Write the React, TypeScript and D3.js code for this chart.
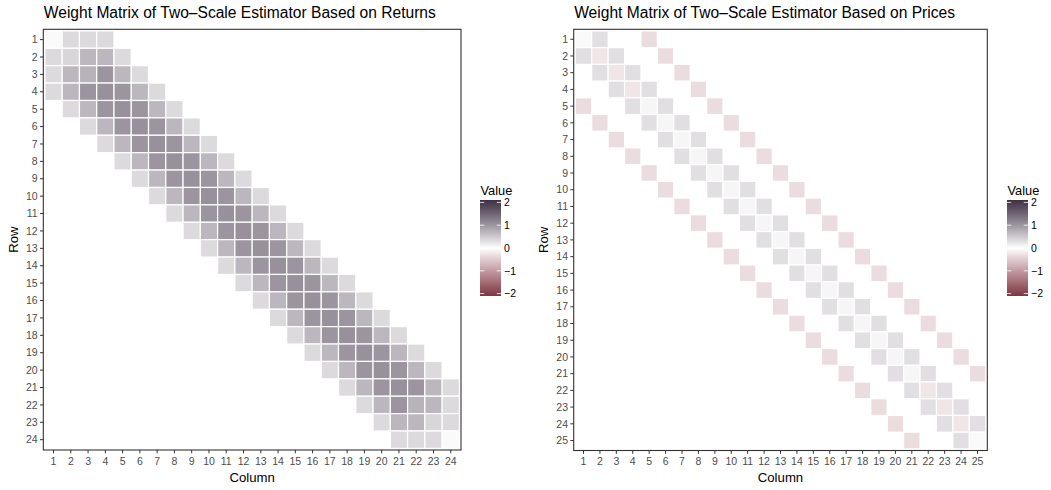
import React from "react";
import * as d3 from "d3";

// Weight matrix of the two-scale estimator written in returns (24 x 24).
// Each row lists its first non-empty column and the weights from there on.
const returnsRowStart = [1, 1, 1, 1, 2, 3, 4, 5, 6, 7, 8, 9, 10, 11, 12, 13, 14, 15, 16, 17, 18, 19, 20, 21];
const returnsRowValues = [
  [0.04, 0.32, 0.32, 0.32],
  [0.32, 0.36, 0.64, 0.64, 0.32],
  [0.32, 0.64, 0.68, 0.96, 0.64, 0.32],
  [0.32, 0.64, 0.96, 1.0, 0.96, 0.64, 0.32],
  [0.32, 0.64, 0.96, 1.0, 0.96, 0.64, 0.32],
  [0.32, 0.64, 0.96, 1.0, 0.96, 0.64, 0.32],
  [0.32, 0.64, 0.96, 1.0, 0.96, 0.64, 0.32],
  [0.32, 0.64, 0.96, 1.0, 0.96, 0.64, 0.32],
  [0.32, 0.64, 0.96, 1.0, 0.96, 0.64, 0.32],
  [0.32, 0.64, 0.96, 1.0, 0.96, 0.64, 0.32],
  [0.32, 0.64, 0.96, 1.0, 0.96, 0.64, 0.32],
  [0.32, 0.64, 0.96, 1.0, 0.96, 0.64, 0.32],
  [0.32, 0.64, 0.96, 1.0, 0.96, 0.64, 0.32],
  [0.32, 0.64, 0.96, 1.0, 0.96, 0.64, 0.32],
  [0.32, 0.64, 0.96, 1.0, 0.96, 0.64, 0.32],
  [0.32, 0.64, 0.96, 1.0, 0.96, 0.64, 0.32],
  [0.32, 0.64, 0.96, 1.0, 0.96, 0.64, 0.32],
  [0.32, 0.64, 0.96, 1.0, 0.96, 0.64, 0.32],
  [0.32, 0.64, 0.96, 1.0, 0.96, 0.64, 0.32],
  [0.32, 0.64, 0.96, 1.0, 0.96, 0.64, 0.32],
  [0.32, 0.64, 0.96, 1.0, 0.96, 0.64, 0.32],
  [0.32, 0.64, 0.96, 0.68, 0.64, 0.32],
  [0.32, 0.64, 0.64, 0.36, 0.32],
  [0.32, 0.32, 0.32, 0.04],
];

// Same estimator written as a quadratic form in prices (25 x 25).
const pricesRowStart = [1, 1, 2, 3, 1, 2, 3, 4, 5, 6, 7, 8, 9, 10, 11, 12, 13, 14, 15, 16, 17, 18, 19, 20, 21];
const pricesRowValues = [
  [0.04, 0.28, 0, 0, -0.32],
  [0.28, -0.24, 0.28, 0, 0, -0.32],
  [0.28, -0.24, 0.28, 0, 0, -0.32],
  [0.28, -0.24, 0.28, 0, 0, -0.32],
  [-0.32, 0, 0, 0.28, 0.08, 0.28, 0, 0, -0.32],
  [-0.32, 0, 0, 0.28, 0.08, 0.28, 0, 0, -0.32],
  [-0.32, 0, 0, 0.28, 0.08, 0.28, 0, 0, -0.32],
  [-0.32, 0, 0, 0.28, 0.08, 0.28, 0, 0, -0.32],
  [-0.32, 0, 0, 0.28, 0.08, 0.28, 0, 0, -0.32],
  [-0.32, 0, 0, 0.28, 0.08, 0.28, 0, 0, -0.32],
  [-0.32, 0, 0, 0.28, 0.08, 0.28, 0, 0, -0.32],
  [-0.32, 0, 0, 0.28, 0.08, 0.28, 0, 0, -0.32],
  [-0.32, 0, 0, 0.28, 0.08, 0.28, 0, 0, -0.32],
  [-0.32, 0, 0, 0.28, 0.08, 0.28, 0, 0, -0.32],
  [-0.32, 0, 0, 0.28, 0.08, 0.28, 0, 0, -0.32],
  [-0.32, 0, 0, 0.28, 0.08, 0.28, 0, 0, -0.32],
  [-0.32, 0, 0, 0.28, 0.08, 0.28, 0, 0, -0.32],
  [-0.32, 0, 0, 0.28, 0.08, 0.28, 0, 0, -0.32],
  [-0.32, 0, 0, 0.28, 0.08, 0.28, 0, 0, -0.32],
  [-0.32, 0, 0, 0.28, 0.08, 0.28, 0, 0, -0.32],
  [-0.32, 0, 0, 0.28, 0.08, 0.28, 0, 0, -0.32],
  [-0.32, 0, 0, 0.28, -0.24, 0.28],
  [-0.32, 0, 0, 0.28, -0.24, 0.28],
  [-0.32, 0, 0, 0.28, -0.24, 0.28],
  [-0.32, 0, 0, 0.28, 0.04],
];

const legendTicks = [2, 1, 0, -1, -2];
const legendLimits = [-2, 2];

const FONT = "'Liberation Sans', Arial, Helvetica, sans-serif";
const LOW = "#7b3545";
const MID = "#ffffff";
const HIGH = "#3d3042";

const fill = d3
  .scaleLinear<string>()
  .domain([legendLimits[0], 0, legendLimits[1]])
  .range([LOW, MID, HIGH])
  .interpolate(d3.interpolateLab)
  .clamp(true);

type Box = { x0: number; x1: number; y0: number; y1: number };

function Heatmap(props: {
  id: string;
  title: string;
  rowStart: number[];
  rowValues: number[][];
  panel: Box;
  rowTitleX: number;
  legendX: number;
}) {
  const { id, title, rowStart, rowValues, panel, rowTitleX, legendX } = props;
  const n = rowValues.length;
  const idx = d3.range(1, n + 1);
  const pad = 1.6;
  const x = d3.scaleBand<number>().domain(idx).range([panel.x0 + pad, panel.x1 - pad]);
  const y = d3.scaleBand<number>().domain(idx).range([panel.y0 + pad, panel.y1 - pad]);
  const bw = x.bandwidth();
  const bh = y.bandwidth();

  const cells: { r: number; c: number; v: number }[] = [];
  rowValues.forEach((vals, i) => {
    vals.forEach((v, j) => {
      if (v !== 0) cells.push({ r: i + 1, c: rowStart[i] + j, v });
    });
  });

  // colour bar
  const barTop = 200;
  const barBottom = 296;
  const barW = 21;
  const nbin = 20;
  const half = (barBottom - barTop) / nbin / 2;
  const ly = d3
    .scaleLinear()
    .domain(legendLimits)
    .range([barBottom - half, barTop + half]);
  const stops = d3.range(0, 61).map((k) => k / 60);
  const gradId = `grad-${id}`;
  const tickLen = 3.3;

  return (
    <g>
      <text x={panel.x0 + 0.5} y={18} fontFamily={FONT} fontSize={15.6} fill="#000">
        {title}
      </text>

      {cells.map((d) => (
        <rect
          key={`${d.r}-${d.c}`}
          x={x(d.c)}
          y={y(d.r)}
          width={bw}
          height={bh}
          fill={fill(d.v)}
          stroke="#ffffff"
          strokeWidth={1.2}
        />
      ))}

      <rect
        x={panel.x0}
        y={panel.y0}
        width={panel.x1 - panel.x0}
        height={panel.y1 - panel.y0}
        fill="none"
        stroke="#333333"
        strokeWidth={1.1}
      />

      {idx.map((r) => (
        <g key={`yt${r}`}>
          <line
            x1={panel.x0 - tickLen}
            x2={panel.x0}
            y1={(y(r) as number) + bh / 2}
            y2={(y(r) as number) + bh / 2}
            stroke="#333333"
            strokeWidth={1}
          />
          <text
            x={panel.x0 - tickLen - 2.4}
            y={(y(r) as number) + bh / 2 + 3.7}
            textAnchor="end"
            fontFamily={FONT}
            fontSize={10.5}
            fill="#4d4d4d"
          >
            {r}
          </text>
        </g>
      ))}

      {idx.map((c) => (
        <g key={`xt${c}`}>
          <line
            x1={(x(c) as number) + bw / 2}
            x2={(x(c) as number) + bw / 2}
            y1={panel.y1}
            y2={panel.y1 + tickLen}
            stroke="#333333"
            strokeWidth={1}
          />
          <text
            x={(x(c) as number) + bw / 2}
            y={panel.y1 + 14.7}
            textAnchor="middle"
            fontFamily={FONT}
            fontSize={10.5}
            fill="#4d4d4d"
          >
            {c}
          </text>
        </g>
      ))}

      <text
        x={(panel.x0 + panel.x1) / 2}
        y={481.5}
        textAnchor="middle"
        fontFamily={FONT}
        fontSize={13.2}
        fill="#000"
      >
        Column
      </text>
      <text
        transform={`translate(${rowTitleX},${(panel.y0 + panel.y1) / 2}) rotate(-90)`}
        textAnchor="middle"
        fontFamily={FONT}
        fontSize={13.2}
        fill="#000"
      >
        Row
      </text>

      <defs>
        <linearGradient id={gradId} x1="0" y1="1" x2="0" y2="0">
          {stops.map((t) => (
            <stop
              key={t}
              offset={t}
              stopColor={fill(legendLimits[0] + t * (legendLimits[1] - legendLimits[0]))}
            />
          ))}
        </linearGradient>
      </defs>
      <text x={legendX + 0.5} y={195} fontFamily={FONT} fontSize={12.8} fill="#000">
        Value
      </text>
      <rect x={legendX} y={barTop} width={barW} height={barBottom - barTop} fill={`url(#${gradId})`} />
      {legendTicks.map((t) => (
        <g key={`lt${t}`}>
          <line
            x1={legendX}
            x2={legendX + barW / 5}
            y1={ly(t)}
            y2={ly(t)}
            stroke="#ffffff"
            strokeOpacity={0.8}
            strokeWidth={1}
          />
          <line
            x1={legendX + barW - barW / 5}
            x2={legendX + barW}
            y1={ly(t)}
            y2={ly(t)}
            stroke="#ffffff"
            strokeOpacity={0.8}
            strokeWidth={1}
          />
          <text
            x={legendX + barW + 3}
            y={ly(t) + 3.7}
            fontFamily={FONT}
            fontSize={10.5}
            fill="#000"
          >
            {t < 0 ? `\u2212${Math.abs(t)}` : `${t}`}
          </text>
        </g>
      ))}
    </g>
  );
}

const returnsTitle = "Weight Matrix of Two\u2013Scale Estimator Based on Returns";
const pricesTitle = "Weight Matrix of Two\u2013Scale Estimator Based on Prices";

export default function App() {
  return (
    <svg
      width={1051}
      height={490}
      style={{ position: "absolute", left: 0, top: 0, background: "#ffffff" }}
    >
      <rect width={1051} height={490} fill="#ffffff" />
      <Heatmap
        id="returns"
        title={returnsTitle}
        rowStart={returnsRowStart}
        rowValues={returnsRowValues}
        panel={{ x0: 43.3, x1: 461, y0: 29.3, y1: 450 }}
        rowTitleX={18.3}
        legendX={480}
      />
      <Heatmap
        id="prices"
        title={pricesTitle}
        rowStart={pricesRowStart}
        rowValues={pricesRowValues}
        panel={{ x0: 573.7, x1: 987.3, y0: 29.3, y1: 450.5 }}
        rowTitleX={547.7}
        legendX={1007}
      />
    </svg>
  );
}
